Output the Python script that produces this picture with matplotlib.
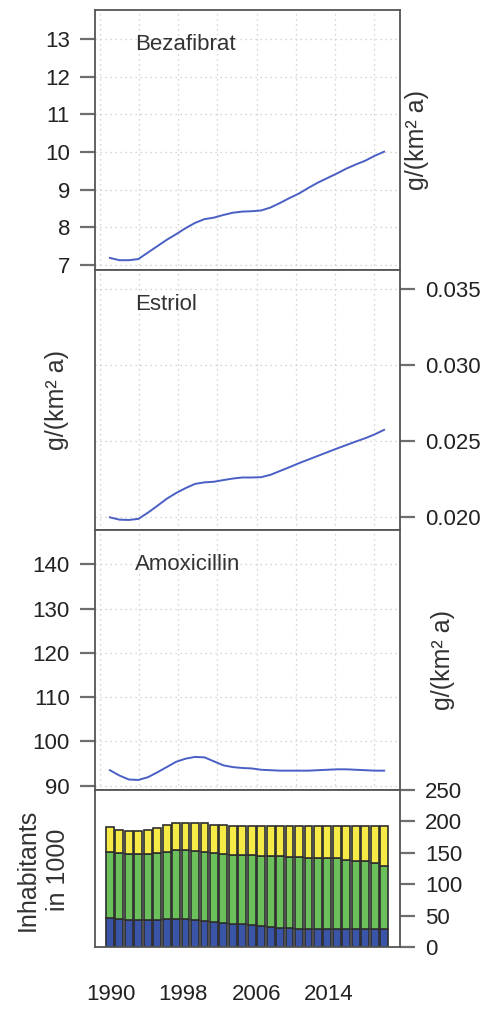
import numpy as np
import matplotlib.pyplot as plt

plt.rcParams['font.family'] = ['Liberation Sans', 'DejaVu Sans']

# data
years = np.arange(1990, 2020)

bezafibrat = [7.19, 7.13, 7.13, 7.16, 7.33, 7.50, 7.67, 7.82, 7.98, 8.12,
              8.22, 8.26, 8.33, 8.39, 8.42, 8.43, 8.45, 8.53, 8.65, 8.78,
              8.90, 9.05, 9.19, 9.31, 9.43, 9.56, 9.67, 9.77, 9.90, 10.01]
estriol = [0.02000, 0.01985, 0.01983, 0.01990, 0.02030, 0.02075, 0.02122, 0.02160,
           0.02192, 0.02220, 0.02230, 0.02234, 0.02245, 0.02255, 0.02262, 0.02262,
           0.02264, 0.02280, 0.02305, 0.02330, 0.02356, 0.02380, 0.02404, 0.02428,
           0.02452, 0.02475, 0.02498, 0.02520, 0.02545, 0.02575]
amoxicillin = [93.5, 92.3, 91.4, 91.3, 91.9, 93.0, 94.2, 95.4, 96.1, 96.5,
               96.4, 95.5, 94.6, 94.2, 94.0, 93.9, 93.6, 93.5, 93.4, 93.4,
               93.4, 93.4, 93.5, 93.6, 93.7, 93.7, 93.6, 93.5, 93.4, 93.4]

# inhabitants in 1000, three groups (bottom to top)
inh_blue = [46, 44, 43, 43, 43, 43.5, 44.5, 45, 44, 42.5, 41.5, 40, 38.5, 37, 36,
            34.5, 33, 32, 31, 30, 29, 28.5, 28.5, 29, 29, 29, 29, 29, 29, 29]
inh_green = [105.5, 105, 105, 105, 105, 106.5, 107, 109, 110, 110.5, 110, 109, 109.5, 110, 110,
             111.5, 112.5, 113, 113.5, 114, 114, 114, 113.5, 112.5, 112, 110, 108, 107.5, 104, 100]
inh_yellow = [39.5, 38, 37, 37, 39, 39, 42, 43, 44, 45, 45.5, 45, 45.5, 46, 47,
              47, 47.5, 48, 48.5, 49, 50, 50.5, 51, 51.5, 52, 54, 56, 56.5, 60, 64]

year_labels = ['1990', '1998', '2006', '2014']
year_label_pos = [1990.1, 1997.7, 2005.5, 2013.1]

line_color = '#4a5fc4'
frame_color = '#555555'
tick_color = '#6e6e6e'
xlim = (1988.42, 2020.68)
vgrid = 1988.95 + 4.14 * np.arange(8)

fig = plt.figure(figsize=(4.85, 10.11), dpi=100)
W, H = 485, 1011
title_x = (135 - 95) / 305


def add_panel(top, bottom):
    return fig.add_axes([95 / W, (H - bottom) / H, 305 / W, (bottom - top) / H])


def style(ax, side):
    ax.set_xlim(*xlim)
    for s in ax.spines.values():
        s.set_color(frame_color)
        s.set_linewidth(1.3)
    ax.tick_params(axis='x', length=0, labelbottom=False)
    ax.tick_params(axis='y', length=11, width=1.6, color=tick_color,
                   labelsize=16, labelcolor='#222222', pad=7)
    if side == 'right':
        ax.yaxis.tick_right()


def grid(ax, yticks):
    for x in vgrid:
        ax.axvline(x, color='#c8c8c8', lw=0.9, ls=(0, (1, 3)), zorder=0)
    for y in yticks:
        ax.axhline(y, color='#c8c8c8', lw=0.9, ls=(0, (1, 3)), zorder=0)


# panel 1: Bezafibrat
ax1 = add_panel(10, 270)
style(ax1, 'left')
ax1.set_ylim(6.87, 13.77)
t1 = [7, 8, 9, 10, 11, 12, 13]
ax1.set_yticks(t1)
grid(ax1, t1)
ax1.plot(years, bezafibrat, color=line_color, lw=1.4)
ax1.text(title_x, 0.867, 'Bezafibrat', transform=ax1.transAxes, fontsize=16,
         color='#333333', va='center', ha='left')

# panel 2: Estriol
ax2 = add_panel(270, 530)
style(ax2, 'right')
ax2.set_ylim(0.01917, 0.03625)
t2 = [0.020, 0.025, 0.030, 0.035]
ax2.set_yticks(t2)
ax2.set_yticklabels(['0.020', '0.025', '0.030', '0.035'])
grid(ax2, t2)
ax2.plot(years, estriol, color=line_color, lw=1.4)
ax2.text(title_x, 0.867, 'Estriol', transform=ax2.transAxes, fontsize=16,
         color='#333333', va='center', ha='left')

# panel 3: Amoxicillin
ax3 = add_panel(530, 790)
style(ax3, 'left')
ax3.set_ylim(89.03, 147.74)
t3 = [90, 100, 110, 120, 130, 140]
ax3.set_yticks(t3)
grid(ax3, t3)
ax3.plot(years, amoxicillin, color=line_color, lw=1.4)
ax3.text(title_x, 0.867, 'Amoxicillin', transform=ax3.transAxes, fontsize=16,
         color='#333333', va='center', ha='left')

# panel 4: inhabitants
ax4 = add_panel(790, 947)
style(ax4, 'right')
ax4.set_ylim(0, 250)
ax4.set_yticks([0, 50, 100, 150, 200, 250])
bottom2 = np.array(inh_blue) + np.array(inh_green)
kw = dict(width=0.83, edgecolor='#2e2e2e', linewidth=1.2)
ax4.bar(years, inh_blue, color='#3a55a8', **kw)
ax4.bar(years, inh_green, bottom=inh_blue, color='#6cc05c', **kw)
ax4.bar(years, inh_yellow, bottom=bottom2, color='#f6ea46', **kw)
ax4.set_xticks(year_label_pos)
ax4.set_xticklabels(year_labels)
ax4.tick_params(axis='x', length=0, labelbottom=True, labelsize=16,
                labelcolor='#222222', pad=27)

# axis labels
lab = dict(rotation=90, ha='center', va='center', fontsize=18, color='#333333')
fig.text(417 / W, 1 - 140 / H, 'g/(km² a)', **lab)
fig.text(57 / W, 1 - 400 / H, 'g/(km² a)', **lab)
fig.text(443 / W, 1 - 660 / H, 'g/(km² a)', **lab)
fig.text(43 / W, 1 - 870 / H, 'Inhabitants\nin 1000', linespacing=1.35, **lab)

fig.savefig('out.png', dpi=100)
